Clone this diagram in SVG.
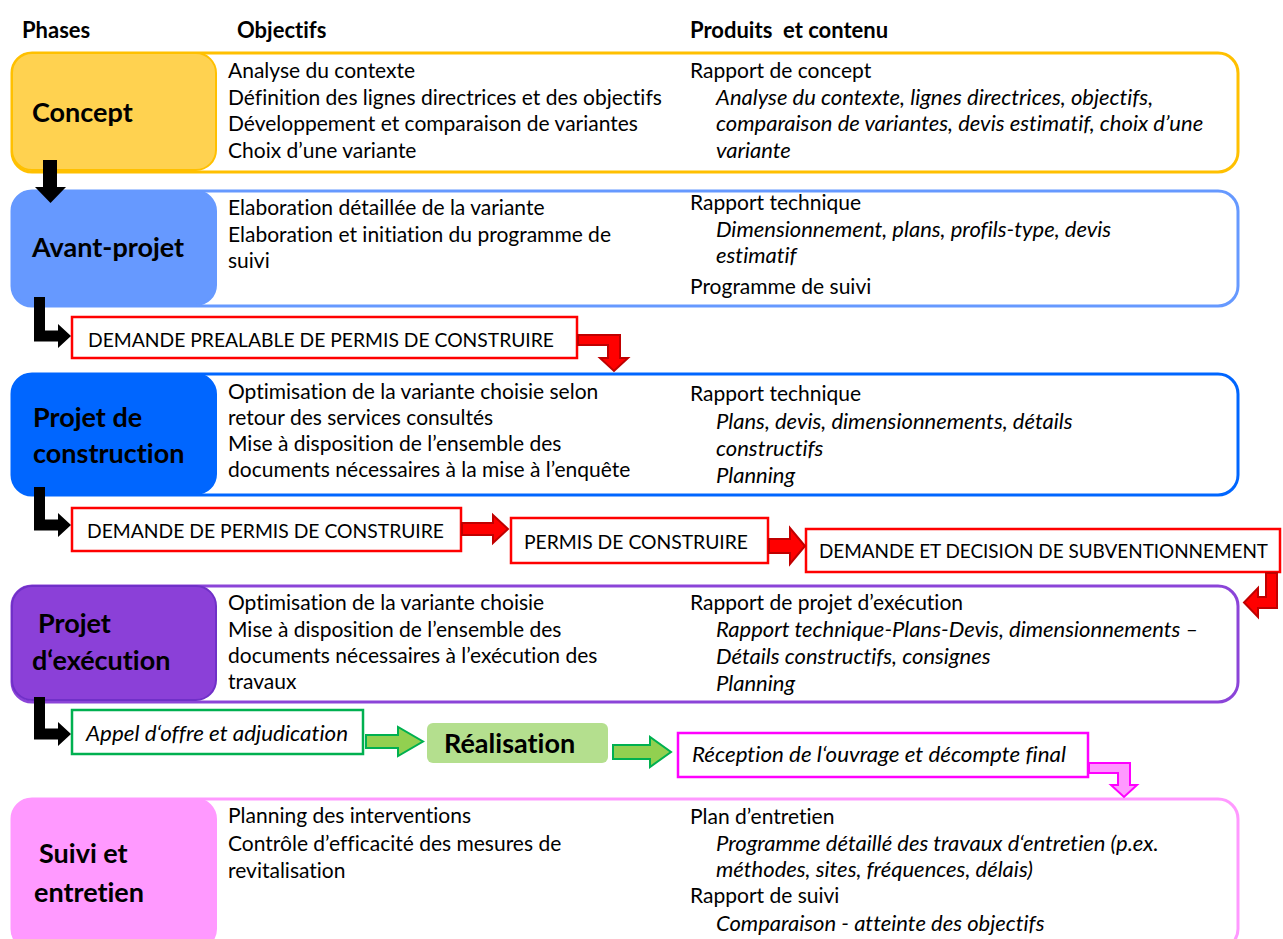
<svg xmlns="http://www.w3.org/2000/svg" width="1283" height="939" viewBox="0 0 1283 939">
<style>
text{font-family:Lato,"Liberation Sans",sans-serif;fill:#000;font-variant-ligatures:none;font-feature-settings:"liga" 0,"clig" 0}
.hd{font-size:22px;font-weight:bold}
.lb{font-size:27px;font-weight:bold}
.tx{font-size:21px}
.it{font-size:22px;font-style:italic}
.cap{font-size:19px}
.outer{fill:#fff;stroke-width:3}
.red{fill:#FF0000;stroke:#C00000;stroke-width:2}
.grn{fill:#92D050;stroke:#00B050;stroke-width:2}
.blk{fill:#000}
.box{fill:#fff;stroke-width:2.5}
</style>
<rect width="1283" height="939" fill="#fff"/>
<g id="headers">
<text class="hd" x="22" y="38">Phases</text>
<text class="hd" x="237" y="38">Objectifs</text>
<text class="hd" x="690" y="38" xml:space="preserve">Produits  et contenu</text>
</g>
<g id="concept">
<rect class="outer" x="12" y="53" width="1226" height="119" rx="20" stroke="#FFC000"/>
<rect x="12" y="53" width="204" height="117" rx="20" fill="#FFD250" stroke="#FFC000" stroke-width="2"/>
<text class="lb" x="32" y="122">Concept</text>
<text class="tx" x="228" y="78">Analyse du contexte</text>
<text class="tx" x="228" y="104.5">Définition des lignes directrices et des objectifs</text>
<text class="tx" x="228" y="131">Développement et comparaison de variantes</text>
<text class="tx" x="228" y="157.5">Choix d’une variante</text>
<text class="tx" x="690" y="78">Rapport de concept</text>
<text class="it" x="716" y="104.5">Analyse du contexte, lignes directrices, objectifs,</text>
<text class="it" x="716" y="131">comparaison de variantes, devis estimatif, choix d’une</text>
<text class="it" x="716" y="157.5">variante</text>
</g>
<g id="avant-projet">
<rect class="outer" x="12" y="191" width="1226" height="115" rx="20" stroke="#6699FF"/>
<rect x="12" y="191" width="204" height="114" rx="20" fill="#6699FF" stroke="#6699FF" stroke-width="2"/>
<text class="lb" x="32" y="257">Avant-projet</text>
<text class="tx" x="228" y="215">Elaboration détaillée de la variante</text>
<text class="tx" x="228" y="242">Elaboration et initiation du programme de</text>
<text class="tx" x="228" y="268">suivi</text>
<text class="tx" x="690" y="210">Rapport technique</text>
<text class="it" x="716" y="237">Dimensionnement, plans, profils-type, devis</text>
<text class="it" x="716" y="263">estimatif</text>
<text class="tx" x="690" y="294">Programme de suivi</text>
</g>
<g id="projet-construction">
<rect class="outer" x="12" y="374" width="1226" height="121" rx="20" stroke="#0066FF"/>
<rect x="12" y="374" width="204" height="120" rx="20" fill="#0066FF" stroke="#0066FF" stroke-width="2"/>
<text class="lb" x="33" y="427">Projet de</text>
<text class="lb" x="33" y="463">construction</text>
<text class="tx" x="228" y="399">Optimisation de la variante choisie selon</text>
<text class="tx" x="228" y="425">retour des services consultés</text>
<text class="tx" x="228" y="451">Mise à disposition de l’ensemble des</text>
<text class="tx" x="228" y="477">documents nécessaires à la mise à l’enquête</text>
<text class="tx" x="690" y="401">Rapport technique</text>
<text class="it" x="716" y="429">Plans, devis, dimensionnements, détails</text>
<text class="it" x="716" y="456">constructifs</text>
<text class="it" x="716" y="483">Planning</text>
</g>
<g id="projet-execution">
<rect class="outer" x="12" y="586" width="1226" height="116" rx="20" stroke="#8B44D8"/>
<rect x="12" y="586" width="204" height="114" rx="20" fill="#8B40D8" stroke="#7030C8" stroke-width="2"/>
<text class="lb" x="38" y="633">Projet</text>
<text class="lb" x="32" y="670">d‘exécution</text>
<text class="tx" x="228" y="610">Optimisation de la variante choisie</text>
<text class="tx" x="228" y="637">Mise à disposition de l’ensemble des</text>
<text class="tx" x="228" y="663">documents nécessaires à l’exécution des</text>
<text class="tx" x="228" y="689">travaux</text>
<text class="tx" x="690" y="610">Rapport de projet d’exécution</text>
<text class="it" x="716" y="637">Rapport technique-Plans-Devis, dimensionnements –</text>
<text class="it" x="716" y="664">Détails constructifs, consignes</text>
<text class="it" x="716" y="691">Planning</text>
</g>
<g id="suivi-entretien">
<rect class="outer" x="12" y="799" width="1226" height="150" rx="20" stroke="#FF99FF"/>
<rect x="12" y="799" width="204" height="150" rx="20" fill="#FF99FF" stroke="#FF99FF" stroke-width="2"/>
<text class="lb" x="39" y="863">Suivi et</text>
<text class="lb" x="34" y="902">entretien</text>
<text class="tx" x="228" y="823">Planning des interventions</text>
<text class="tx" x="228" y="851">Contrôle d’efficacité des mesures de</text>
<text class="tx" x="228" y="878">revitalisation</text>
<text class="tx" x="690" y="824">Plan d’entretien</text>
<text class="it" x="716" y="851">Programme détaillé des travaux d‘entretien (p.ex.</text>
<text class="it" x="716" y="877">méthodes, sites, fréquences, délais)</text>
<text class="tx" x="690" y="903">Rapport de suivi</text>
<text class="it" x="716" y="931">Comparaison - atteinte des objectifs</text>
</g>
<g id="demande-prealable">
<rect class="box" x="72" y="317" width="505" height="41" stroke="#FF0000"/>
<text class="cap" x="88" y="347" textLength="466" lengthAdjust="spacingAndGlyphs">DEMANDE PREALABLE DE PERMIS DE CONSTRUIRE</text>
</g>
<g id="demande-permis">
<rect class="box" x="72" y="508" width="389" height="43" stroke="#FF0000"/>
<text class="cap" x="87" y="538" textLength="357" lengthAdjust="spacingAndGlyphs">DEMANDE DE PERMIS DE CONSTRUIRE</text>
</g>
<g id="permis">
<rect class="box" x="511" y="518" width="257" height="45" stroke="#FF0000"/>
<text class="cap" x="524" y="549" textLength="224" lengthAdjust="spacingAndGlyphs">PERMIS DE CONSTRUIRE</text>
</g>
<g id="subventionnement">
<rect class="box" x="806" y="529" width="474" height="43" stroke="#FF0000"/>
<text class="cap" x="819" y="558" textLength="449" lengthAdjust="spacingAndGlyphs">DEMANDE ET DECISION DE SUBVENTIONNEMENT</text>
</g>
<g id="appel-offre">
<rect class="box" x="72" y="710" width="291" height="44" stroke="#00B050"/>
<text class="it" x="86" y="741" textLength="262" lengthAdjust="spacingAndGlyphs">Appel d‘offre et adjudication</text>
</g>
<g id="realisation">
<rect x="427" y="723" width="181" height="40" rx="6" fill="#B4DF8E"/>
<text class="lb" x="444" y="753">Réalisation</text>
</g>
<g id="reception">
<rect class="box" x="678" y="733" width="410" height="44" stroke="#FF00FF" stroke-width="3"/>
<text class="it" x="692" y="762" textLength="374" lengthAdjust="spacingAndGlyphs">Réception de l‘ouvrage et décompte final</text>
</g>
<g id="connectors">
<polygon class="blk" points="43,160 57,160 57,187 66,187 50.5,203 35,187 43,187"/>
<polygon class="blk" points="34,297 45,297 45,330.5 58,330.5 58,324 71,336 58,348 58,341.5 34,341.5"/>
<polygon class="blk" points="34,487 45,487 45,519.5 58,519.5 58,513 71,525 58,537 58,530.5 34,530.5"/>
<polygon class="blk" points="34,697 45,697 45,728.5 58,728.5 58,722 71,734 58,746 58,739.5 34,739.5"/>
<polygon class="red" points="578,335 620,335 620,358 628,358 614,371 600,358 608,358 608,345 578,345"/>
<polygon class="red" points="462,523 493,523 493,515 508,529 493,543 493,535 462,535"/>
<polygon class="red" points="769,539 790,539 790,528 805,546 790,564 790,553 769,553"/>
<polygon class="red" points="1266,573 1277,573 1277,608 1258,608 1258,617 1244,602.5 1258,588 1258,597 1266,597"/>
<polygon class="grn" points="366,735 398,735 398,727 423,741.5 398,756 398,748 366,748"/>
<polygon class="grn" points="613,745 650,745 650,737 671,752 650,767 650,759 613,759"/>
<polygon points="1089,763 1130,763 1130,785 1137,785 1124,797 1111,785 1118,785 1118,773 1089,773" fill="#FF99FF" stroke="#FF00FF" stroke-width="2"/>
</g>
</svg>
